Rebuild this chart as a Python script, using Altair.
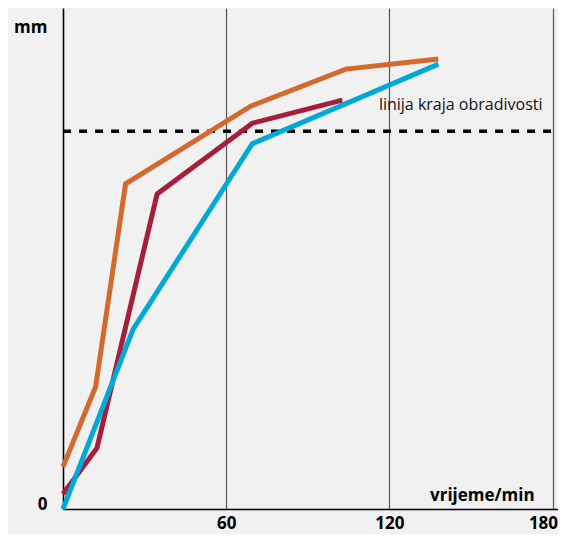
import altair as alt
import pandas as pd

# data
orange_x = [0, 12, 23, 69, 104, 138]
orange_y = [8.4, 24.4, 64.9, 80.4, 87.8, 89.8]
red_x = [0, 12.5, 34.6, 69.6, 102.7]
red_y = [3.0, 12.2, 62.9, 77.0, 81.6]
blue_x = [0, 25.8, 69.6, 138]
blue_y = [0, 35.9, 72.9, 88.8]

series_names = ["orange", "red", "blue"]
series_colors = ["#d3692c", "#a51f3b", "#00a9d6"]

x_ticks = [60, 120, 180]
limit_y = 75.4
limit_x_end = 181.5
limit_label = "linija kraja obradivosti"
limit_label_pos = [176.3, 79.6]
x_title = "vrijeme/min"
x_title_pos = [173.4, 1.6]
y_labels_pos = [0, 95.2]

rows = []
for name, xs, ys in zip(series_names, [orange_x, red_x, blue_x], [orange_y, red_y, blue_y]):
    for i, (xv, yv) in enumerate(zip(xs, ys)):
        rows.append({"s": name, "x": xv, "y": yv, "o": i})
df = pd.DataFrame(rows)

FONT = "Open Sans"
xscale = alt.Scale(domain=[0, 182], nice=False, zero=False)
yscale = alt.Scale(domain=[0, 100], nice=False, zero=False)

lines = alt.Chart(df).mark_line(strokeWidth=5, strokeJoin="miter").encode(
    x=alt.X("x:Q", scale=xscale, axis=alt.Axis(
        values=x_ticks, grid=True, gridColor="#555555", gridWidth=1.2,
        domainColor="#000000", domainWidth=1.6, ticks=False, title=None,
        labelFont=FONT, labelFontSize=17, labelFontWeight="bold", labelColor="#000000",
        labelAlign=alt.expr("datum.value == 180 ? 'right' : 'center'"),
        labelOffset=alt.expr("datum.value == 180 ? 5 : 0"),
        labelPadding=6, labelFlush=False, labelOverlap=False)),
    y=alt.Y("y:Q", scale=yscale, axis=alt.Axis(
        values=y_labels_pos, grid=False, domainColor="#000000", domainWidth=1.6,
        ticks=False, title=None, labelExpr="datum.value == 0 ? '0' : 'mm'",
        labelFont=FONT, labelFontSize=17, labelFontWeight="bold", labelColor="#000000",
        labelBaseline="alphabetic", labelAlign="right", labelPadding=16,
        labelFlush=False, labelOverlap=False)),
    color=alt.Color("s:N", scale=alt.Scale(domain=series_names, range=series_colors), legend=None),
    order="o:Q",
)

limit_df = pd.DataFrame({"x": [0], "x2": [limit_x_end], "y": [limit_y]})
limit = alt.Chart(limit_df).mark_rule(color="#000000", strokeWidth=3.5, strokeDash=[8, 8]).encode(
    x=alt.X("x:Q", scale=xscale), x2="x2:Q", y=alt.Y("y:Q", scale=yscale)
)

lab_df = pd.DataFrame({"x": [limit_label_pos[0]], "y": [limit_label_pos[1]], "t": [limit_label]})
lab = alt.Chart(lab_df).mark_text(align="right", baseline="alphabetic", font=FONT,
                                  fontSize=16, color="#111111").encode(
    x=alt.X("x:Q", scale=xscale), y=alt.Y("y:Q", scale=yscale), text="t:N")

xt_df = pd.DataFrame({"x": [x_title_pos[0]], "y": [x_title_pos[1]], "t": [x_title]})
xt = alt.Chart(xt_df).mark_text(align="right", baseline="alphabetic", font=FONT,
                                fontSize=17, fontWeight="bold", color="#000000").encode(
    x=alt.X("x:Q", scale=xscale), y=alt.Y("y:Q", scale=yscale), text="t:N")

chart = alt.layer(limit, lines, lab, xt).properties(
    width=495, height=501,
    autosize=alt.AutoSizeParams(type="none"),
    padding={"left": 55, "top": 0, "right": 0, "bottom": 25},
    background="#f1f1f1",
).configure_view(stroke=None)

chart.save("out.html", embed_options={"renderer": "svg", "actions": False})
